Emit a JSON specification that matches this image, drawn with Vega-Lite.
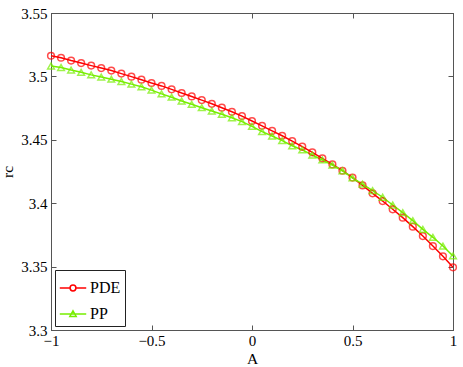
{
  "$schema": "https://vega.github.io/schema/vega-lite/v6.json",
  "autosize": "none",
  "width": 402,
  "height": 317,
  "padding": {"left": 51, "top": 13, "right": 10, "bottom": 37},
  "background": "white",
  "config": {
    "font": "Liberation Serif",
    "view": {"stroke": "#555555", "strokeWidth": 1},
    "axis": {"grid": false, "labelFont": "Liberation Serif", "titleFont": "Liberation Serif", "labelFontSize": 15, "titleFontSize": 15.5, "labelColor": "black", "titleColor": "black", "titleFontWeight": "normal", "domainColor": "#555555", "tickColor": "#555555", "tickSize": -5, "labelPadding": 7, "labelFlush": false, "labelOverlap": false}
  },
  "data": {"values": [
    {"A": -1, "r": 3.5163, "s": "PDE"}, {"A": -0.95, "r": 3.5147, "s": "PDE"}, {"A": -0.9, "r": 3.5125, "s": "PDE"}, {"A": -0.85, "r": 3.5105, "s": "PDE"}, {"A": -0.8, "r": 3.5085, "s": "PDE"}, {"A": -0.75, "r": 3.5066, "s": "PDE"}, {"A": -0.7, "r": 3.5046, "s": "PDE"}, {"A": -0.65, "r": 3.5022, "s": "PDE"}, {"A": -0.6, "r": 3.4998, "s": "PDE"}, {"A": -0.55, "r": 3.4974, "s": "PDE"}, {"A": -0.5, "r": 3.4948, "s": "PDE"},
    {"A": -0.45, "r": 3.4925, "s": "PDE"}, {"A": -0.4, "r": 3.4898, "s": "PDE"}, {"A": -0.35, "r": 3.4869, "s": "PDE"}, {"A": -0.3, "r": 3.4842, "s": "PDE"}, {"A": -0.25, "r": 3.4813, "s": "PDE"}, {"A": -0.2, "r": 3.4784, "s": "PDE"}, {"A": -0.15, "r": 3.4753, "s": "PDE"}, {"A": -0.1, "r": 3.4721, "s": "PDE"}, {"A": -0.05, "r": 3.4687, "s": "PDE"}, {"A": 0, "r": 3.4648, "s": "PDE"},
    {"A": 0.05, "r": 3.4610, "s": "PDE"}, {"A": 0.1, "r": 3.4570, "s": "PDE"}, {"A": 0.15, "r": 3.4532, "s": "PDE"}, {"A": 0.2, "r": 3.4490, "s": "PDE"}, {"A": 0.25, "r": 3.4446, "s": "PDE"}, {"A": 0.3, "r": 3.4401, "s": "PDE"}, {"A": 0.35, "r": 3.4354, "s": "PDE"}, {"A": 0.4, "r": 3.4306, "s": "PDE"}, {"A": 0.45, "r": 3.4256, "s": "PDE"}, {"A": 0.5, "r": 3.4202, "s": "PDE"},
    {"A": 0.55, "r": 3.4140, "s": "PDE"}, {"A": 0.6, "r": 3.4078, "s": "PDE"}, {"A": 0.65, "r": 3.4017, "s": "PDE"}, {"A": 0.7, "r": 3.3952, "s": "PDE"}, {"A": 0.75, "r": 3.3886, "s": "PDE"}, {"A": 0.8, "r": 3.3815, "s": "PDE"}, {"A": 0.85, "r": 3.3741, "s": "PDE"}, {"A": 0.9, "r": 3.3662, "s": "PDE"}, {"A": 0.95, "r": 3.3581, "s": "PDE"}, {"A": 1, "r": 3.3494, "s": "PDE"},
    {"A": -1, "r": 3.5082, "s": "PP"}, {"A": -0.95, "r": 3.5070, "s": "PP"}, {"A": -0.9, "r": 3.5050, "s": "PP"}, {"A": -0.85, "r": 3.5032, "s": "PP"}, {"A": -0.8, "r": 3.5012, "s": "PP"}, {"A": -0.75, "r": 3.4995, "s": "PP"}, {"A": -0.7, "r": 3.4978, "s": "PP"}, {"A": -0.65, "r": 3.4960, "s": "PP"}, {"A": -0.6, "r": 3.4939, "s": "PP"}, {"A": -0.55, "r": 3.4918, "s": "PP"}, {"A": -0.5, "r": 3.4892, "s": "PP"},
    {"A": -0.45, "r": 3.4862, "s": "PP"}, {"A": -0.4, "r": 3.4836, "s": "PP"}, {"A": -0.35, "r": 3.4806, "s": "PP"}, {"A": -0.3, "r": 3.4780, "s": "PP"}, {"A": -0.25, "r": 3.4753, "s": "PP"}, {"A": -0.2, "r": 3.4727, "s": "PP"}, {"A": -0.15, "r": 3.4701, "s": "PP"}, {"A": -0.1, "r": 3.4674, "s": "PP"}, {"A": -0.05, "r": 3.4643, "s": "PP"}, {"A": 0, "r": 3.4606, "s": "PP"},
    {"A": 0.05, "r": 3.4564, "s": "PP"}, {"A": 0.1, "r": 3.4530, "s": "PP"}, {"A": 0.15, "r": 3.4493, "s": "PP"}, {"A": 0.2, "r": 3.4453, "s": "PP"}, {"A": 0.25, "r": 3.4420, "s": "PP"}, {"A": 0.3, "r": 3.4380, "s": "PP"}, {"A": 0.35, "r": 3.4341, "s": "PP"}, {"A": 0.4, "r": 3.4301, "s": "PP"}, {"A": 0.45, "r": 3.4256, "s": "PP"}, {"A": 0.5, "r": 3.4200, "s": "PP"},
    {"A": 0.55, "r": 3.4151, "s": "PP"}, {"A": 0.6, "r": 3.4099, "s": "PP"}, {"A": 0.65, "r": 3.4047, "s": "PP"}, {"A": 0.7, "r": 3.3986, "s": "PP"}, {"A": 0.75, "r": 3.3925, "s": "PP"}, {"A": 0.8, "r": 3.3862, "s": "PP"}, {"A": 0.85, "r": 3.3794, "s": "PP"}, {"A": 0.9, "r": 3.3731, "s": "PP"}, {"A": 0.95, "r": 3.3662, "s": "PP"}, {"A": 1, "r": 3.3584, "s": "PP"}
  ]},
  "layer": [
    {
      "mark": {"type": "line", "strokeWidth": 1.5},
      "encoding": {
        "x": {"field": "A", "type": "quantitative", "scale": {"domain": [-1, 1], "nice": false, "zero": false}, "axis": {"title": "A", "values": [-1, -0.5, 0, 0.5, 1], "format": ".1~f", "labelPadding": 8, "titlePadding": 3}},
        "y": {"field": "r", "type": "quantitative", "scale": {"domain": [3.3, 3.55], "nice": false, "zero": false}, "axis": {"title": "rc", "values": [3.3, 3.35, 3.4, 3.45, 3.5, 3.55], "format": ".2~f", "labelPadding": 9, "titlePadding": 5}},
        "color": {"field": "s", "type": "nominal", "scale": {"domain": ["PDE", "PP"], "range": ["#ff0000", "#77ee00"]},
          "legend": {"title": null, "orient": "bottom-left", "offset": 4, "fillColor": "white", "strokeColor": "#222222", "padding": 4, "labelFont": "Liberation Serif", "labelFontSize": 16, "labelColor": "black", "symbolSize": 700, "symbolStrokeWidth": 1.5, "rowPadding": 4, "labelOffset": 3,
            "encode": {"symbols": {"update": {"shape": {"signal": "datum.value === 'PDE' ? 'M-1,0H-0.22M0.22,0H1M-0.22,0A0.22,0.22,0,1,0,0.22,0A0.22,0.22,0,1,0,-0.22,0' : 'M-1,0H1M0,-0.24L0.24,0.18L-0.24,0.18Z'"}, "fill": {"value": "transparent"}}}}}}
      }
    },
    {
      "transform": [{"filter": "datum.s === 'PDE'"}],
      "mark": {"type": "point", "shape": "circle", "filled": false, "size": 45, "strokeWidth": 1.5},
      "encoding": {
        "x": {"field": "A", "type": "quantitative", "axis": {"orient": "top", "labels": false, "title": null, "values": [-1, -0.5, 0, 0.5, 1]}},
        "y": {"field": "r", "type": "quantitative", "axis": {"orient": "right", "labels": false, "title": null, "values": [3.3, 3.35, 3.4, 3.45, 3.5, 3.55]}},
        "color": {"field": "s", "type": "nominal", "legend": null}
      }
    },
    {
      "transform": [{"filter": "datum.s === 'PP'"}],
      "mark": {"type": "point", "shape": "triangle-up", "filled": false, "size": 45, "strokeWidth": 1.5},
      "encoding": {
        "x": {"field": "A", "type": "quantitative", "axis": null},
        "y": {"field": "r", "type": "quantitative", "axis": null},
        "color": {"field": "s", "type": "nominal", "legend": null}
      }
    }
  ],
  "resolve": {"axis": {"x": "independent", "y": "independent"}}
}
